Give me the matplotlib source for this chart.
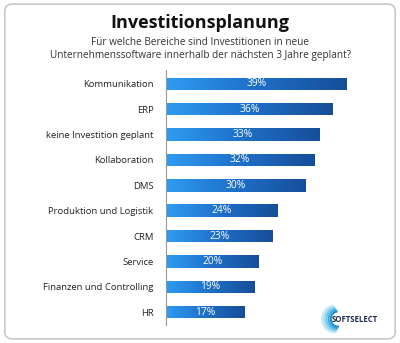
import matplotlib.pyplot as plt
import numpy as np
from matplotlib.patches import FancyBboxPatch, Arc

categories = ["Kommunikation", "ERP", "keine Investition geplant", "Kollaboration", "DMS",
              "Produktion und Logistik", "CRM", "Service", "Finanzen und Controlling", "HR"]
values = [39, 36, 33, 32, 30, 24, 23, 20, 19, 17]

title = "Investitionsplanung"
subtitle = "Für welche Bereiche sind Investitionen in neue\nUnternehmenssoftware innerhalb der nächsten 3 Jahre geplant?"

plt.rcParams['font.family'] = ['Open Sans', 'DejaVu Sans']

fig = plt.figure(figsize=(4.0, 3.43), dpi=100)

# rounded frame around the whole chart (behind the axes)
frame = FancyBboxPatch((0.012, 0.012), 0.976, 0.976, boxstyle="round,pad=0,rounding_size=0.02",
                       transform=fig.transFigure, facecolor='white', edgecolor='#c8c8c8',
                       linewidth=1.2, zorder=-5)
fig.patches.append(frame)

fig.text(0.5, 0.932, title, ha='center', va='center', fontsize=13, fontweight='bold', color='#111111')
fig.text(0.5, 0.857, subtitle, ha='center', va='center', fontsize=7.2, color='#333333', linespacing=1.3)

ax = fig.add_axes([0.415, 0.053, 0.56, 0.743])
ax.set_facecolor('none')
y = np.arange(len(categories))
bars = ax.barh(y, values, height=0.49, color='none', edgecolor='none')

# horizontal gradient from light to dark blue inside each bar
cmap = plt.matplotlib.colors.LinearSegmentedColormap.from_list('blu', ['#2f9cf2', '#1e6fc8', '#174e98'])
grad = np.linspace(0, 1, 256).reshape(1, -1)
for b, v in zip(bars, values):
    x0, y0 = b.get_x(), b.get_y()
    w, h = b.get_width(), b.get_height()
    im = ax.imshow(grad, extent=[x0, x0 + w, y0 + h, y0], aspect='auto', cmap=cmap, zorder=2)
    im.set_clip_path(b)
    ax.text(w / 2, b.get_y() + h / 2, f"{v}%", ha='center', va='center', color='white',
            fontsize=7.4, zorder=3)

ax.set_xlim(0, 48.3)
ax.set_ylim(9.5, -0.55)
ax.set_yticks(y)
ax.set_yticklabels(categories, fontsize=6.8, color='#222222')
ax.tick_params(axis='y', length=0, pad=9)
ax.set_xticks([])
for s in ['top', 'right', 'bottom']:
    ax.spines[s].set_visible(False)
ax.spines['left'].set_color('#999999')
ax.spines['left'].set_linewidth(0.8)

# SoftSelect logo: swirl of arcs + lettering (pixel-sized small axes)
lax = fig.add_axes([310 / 400, 8 / 343, 80 / 400, 32 / 343])
lax.set_xlim(0, 80)
lax.set_ylim(0, 32)
lax.axis('off')
swirl_cols = ['#c9ebf8', '#9ad8f2', '#66c2ea', '#36a8e0', '#1d8acb']
for i, c in enumerate(swirl_cols):
    r = 24 - i * 2.6
    lax.add_patch(Arc((24 + i * 0.9, 16), r, r * 1.1, theta1=90, theta2=280, color=c, lw=1.4))
lax.text(22, 16, "SOFTSELECT", ha='left', va='center', fontsize=5.6, fontweight='bold',
         color='#1a2a4a')

fig.savefig("out.png", dpi=100)
